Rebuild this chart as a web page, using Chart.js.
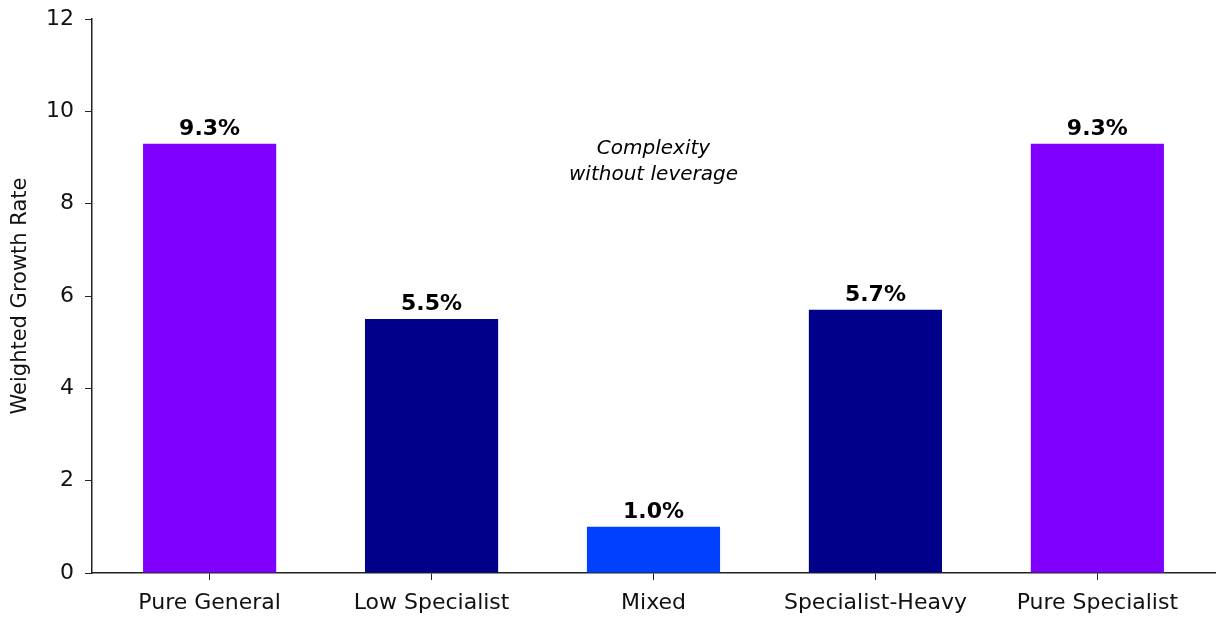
<!DOCTYPE html>
<html>
<head>
<meta charset="utf-8">
<script src="https://cdn.jsdelivr.net/npm/chart.js@4.4.1/dist/chart.umd.min.js"></script>
<style>
  html, body { margin: 0; padding: 0; background: #ffffff; }
  #wrap { width: 1218px; height: 618px; }
</style>
</head>
<body>
<div id="wrap"><canvas id="growthChart"></canvas></div>
<script>
// categories and weighted growth rates (%)
const categories = ['Pure General', 'Low Specialist', 'Mixed', 'Specialist-Heavy', 'Pure Specialist'];
const growthRates = [9.3, 5.5, 1.0, 5.7, 9.3];
const barColors = ['#7f00ff', '#00008b', '#0040ff', '#00008b', '#7f00ff'];
const yTicks = [0, 2, 4, 6, 8, 10, 12];
const noteLines = ['Complexity', 'without leverage'];
const notePos = { x: 2, y: 8.9 };

const FONT = "'DejaVu Sans', sans-serif";

// percentage labels above each bar + the italic note in the middle
const labelPlugin = {
    id: 'barLabels',
    afterDatasetsDraw(chart) {
        const c = chart.ctx;
        const meta = chart.getDatasetMeta(0);
        c.save();
        c.fillStyle = '#000';
        c.textAlign = 'center';
        c.textBaseline = 'alphabetic';
        c.font = 'bold 22px ' + FONT;
        meta.data.forEach((bar, i) => {
            c.fillText(growthRates[i].toFixed(1) + '%', bar.x, bar.y - 9);
        });
        c.font = 'italic 20px ' + FONT;
        c.textBaseline = 'middle';
        const nx = chart.scales.x.getPixelForValue(notePos.x);
        const ny = chart.scales.y.getPixelForValue(notePos.y);
        noteLines.forEach((line, i) => {
            c.fillText(line, nx, ny + (i - (noteLines.length - 1) / 2) * 26);
        });
        c.restore();
    }
};

const ctx = document.getElementById('growthChart').getContext('2d');
const chart = new Chart(ctx, {
    type: 'bar',
    data: {
        datasets: [{
            data: growthRates.map((v, i) => ({ x: i, y: v })),
            backgroundColor: barColors,
            borderWidth: 0,
            categoryPercentage: 1.0,
            barPercentage: 0.6
        }]
    },
    options: {
        responsive: true,
        maintainAspectRatio: false,
        animation: false,
        layout: { padding: { top: 19, right: 3, left: 0, bottom: 0 } },
        plugins: {
            legend: { display: false },
            tooltip: { enabled: false }
        },
        scales: {
            x: {
                type: 'linear',
                offset: false,
                min: -0.53,
                max: 4.53,
                afterBuildTicks: s => { s.ticks = categories.map((_, i) => ({ value: i })); },
                afterFit: s => { s.height = 45; s.paddingLeft = 0; s.paddingRight = 0; },
                grid: { display: true, drawOnChartArea: false, drawTicks: true, tickLength: 7, color: '#222', offset: false },
                border: { display: true, color: '#222', width: 1.5 },
                ticks: {
                    autoSkip: false,
                    maxRotation: 0,
                    padding: 10,
                    color: '#111',
                    font: { family: FONT, size: 22 },
                    callback: v => categories[v]
                }
            },
            y: {
                min: 0,
                max: 12,
                afterBuildTicks: s => { s.ticks = yTicks.map(v => ({ value: v })); },
                afterFit: s => { s.width = 92; s.paddingTop = 0; s.paddingBottom = 0; },
                grid: { display: true, drawOnChartArea: false, drawTicks: true, tickLength: 7, color: '#222' },
                border: { display: true, color: '#222', width: 1.5 },
                ticks: {
                    padding: 11,
                    color: '#111',
                    font: { family: FONT, size: 22 }
                },
                title: {
                    display: true,
                    text: 'Weighted Growth Rate',
                    color: '#111',
                    font: { family: FONT, size: 21 },
                    padding: { top: 8, bottom: 0 }
                }
            }
        }
    },
    plugins: [labelPlugin]
});
</script>
</body>
</html>
